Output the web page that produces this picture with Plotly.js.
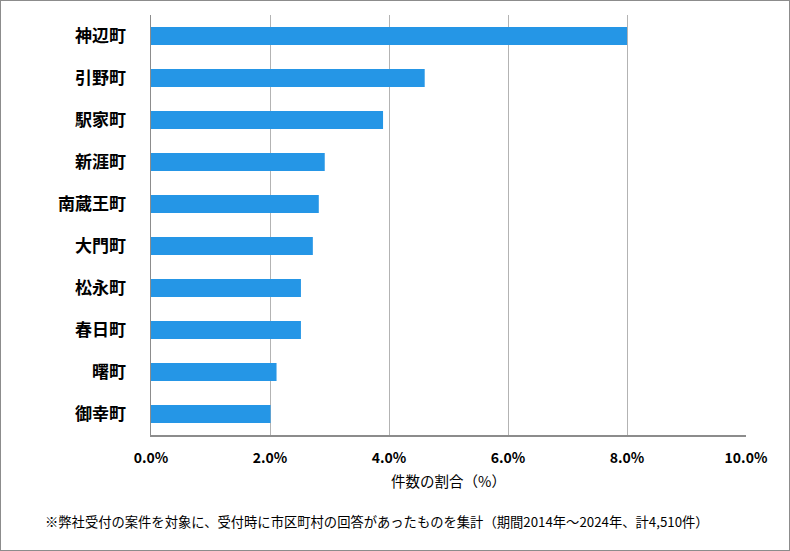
<!DOCTYPE html>
<html><head><meta charset="utf-8">
<script src="https://cdn.plot.ly/plotly-3.0.1.min.js"></script>
<style>
html,body{margin:0;padding:0;background:#fff;}
#wrap{position:relative;width:790px;height:551px;}
#chart{position:absolute;left:0;top:0;width:790px;height:551px;}
#frame{position:absolute;left:0;top:0;width:790px;height:551px;box-sizing:border-box;border:1px solid #8c8c8c;pointer-events:none;z-index:10;}
</style></head>
<body><div id="wrap"><div id="chart"></div><div id="frame"></div></div>
<script>
const categories = ["神辺町","引野町","駅家町","新涯町","南蔵王町","大門町","松永町","春日町","曙町","御幸町"];
const shares = [8.0, 4.6, 3.9, 2.92, 2.82, 2.72, 2.52, 2.52, 2.11, 2.01];
const tickValues = [0, 2, 4, 6, 8, 10];
const tickLabels = ["0.0%","2.0%","4.0%","6.0%","8.0%","10.0%"];
const xTitle = "件数の割合（%）";
const footnote = "※弊社受付の案件を対象に、受付時に市区町村の回答があったものを集計（期間2014年～2024年、計4,510件）";

const font = "Noto Sans CJK JP, Noto Sans, sans-serif";
const trace = {
  type: "bar", orientation: "h",
  x: shares, y: categories,
  marker: {color: "#2596e6"},
  hoverinfo: "none"
};
const layout = {
  width: 790, height: 551,
  margin: {l: 151, r: 44, t: 15, b: 115.5},
  paper_bgcolor: "#fff", plot_bgcolor: "#fff",
  bargap: 0.57,
  showlegend: false,
  font: {family: font, color: "#000"},
  xaxis: {
    range: [0, 10], tickvals: tickValues, ticktext: tickLabels,
    showgrid: true, gridcolor: "#b3b3b3", gridwidth: 1,
    zeroline: false, showline: true, linecolor: "#8c8c8c", linewidth: 1.5,
    ticks: "", ticklabelstandoff: 10,
    tickfont: {size: 14, weight: "bold", family: font, color: "#000"},
    title: {text: xTitle, font: {size: 14.5, family: font, color: "#000"}, standoff: 10},
    fixedrange: true
  },
  yaxis: {
    autorange: "reversed", type: "category",
    showgrid: false, zeroline: false, showline: true, linecolor: "#8c8c8c", linewidth: 1.5,
    ticks: "", ticklabelstandoff: 20,
    tickfont: {size: 17, weight: "bold", family: font, color: "#000"},
    fixedrange: true
  },
  annotations: [{
    text: footnote, xref: "paper", yref: "paper",
    x: -151/595, y: -87/420.5, xanchor: "left", yanchor: "middle",
    xshift: 43, showarrow: false,
    font: {size: 13.3, family: font, color: "#000"}
  }]
};
Plotly.newPlot("chart", [trace], layout, {staticPlot: true, displayModeBar: false});
</script></body></html>
